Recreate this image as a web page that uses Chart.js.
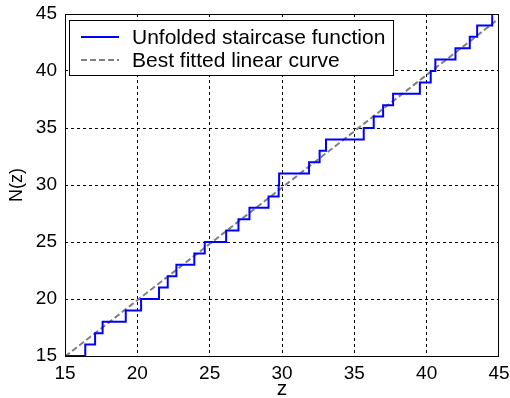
<!DOCTYPE html>
<html lang="en">
<head>
    <meta charset="UTF-8">
    <title>Unfolded staircase function</title>
    <script src="https://cdn.jsdelivr.net/npm/chart.js"></script>
    <style>
        html, body {
            margin: 0;
            padding: 0;
            background: #ffffff;
        }
        #wrap {
            width: 510px;
            height: 398px;
        }
    </style>
</head>
<body>
    <div id="wrap"><canvas id="stairChart"></canvas></div>

    <script>
        // staircase: z where N(z) steps up, and the level reached there
        const eigenZ = [15, 16.4, 17.08, 17.6, 19.2, 20.26, 21.5, 22.1, 22.7, 23.94, 24.66,
            26.14, 26.99, 27.75, 29.07, 29.77, 29.8, 31.87, 32.6, 33.04, 35.65, 36.34,
            36.99, 37.68, 39.53, 40.28, 40.6, 41.99, 42.98, 43.49, 44.53, 45];
        const stairN = [15, 16, 17, 18, 19, 20, 21, 22, 23, 24, 25,
            26, 27, 28, 29, 30, 31, 32, 33, 34, 35, 36,
            37, 38, 39, 40, 41, 42, 43, 44, 45, 45];

        // fitted line end points
        const fitZ = [15, 45];
        const fitN = [14.95, 44.6];

        const xTicks = [15, 20, 25, 30, 35, 40, 45];
        const yTicks = [15, 20, 25, 30, 35, 40, 45];

        const seriesLabels = ['Unfolded staircase function', 'Best fitted linear curve'];

        const FONT = 'Arial, "Liberation Sans", sans-serif';

        // no dashed grid on the frame edges
        const gridColor = c => (c.tick && (c.tick.value === 15 || c.tick.value === 45)) ? 'rgba(0,0,0,0)' : '#000';

        // box round the whole plot area
        const frame = {
            id: 'frame',
            afterDraw(chart) {
                const a = chart.chartArea;
                const ctx = chart.ctx;
                ctx.save();
                ctx.strokeStyle = '#000';
                ctx.lineWidth = 1;
                ctx.strokeRect(a.left + 0.5, a.top + 0.5, a.right - a.left - 1, a.bottom - a.top);
                ctx.restore();
            }
        };

        // legend drawn inside the plot, top left
        const innerLegend = {
            id: 'innerLegend',
            afterDraw(chart) {
                const ctx = chart.ctx;
                const a = chart.chartArea;
                const x0 = a.left + 4, y0 = a.top + 6;
                const w = 324, h = 55;
                ctx.save();
                ctx.fillStyle = '#fff';
                ctx.fillRect(x0, y0, w, h);
                ctx.strokeStyle = '#000';
                ctx.lineWidth = 1;
                ctx.strokeRect(x0 + 0.5, y0 + 0.5, w, h);
                ctx.font = '21px ' + FONT;
                ctx.textBaseline = 'middle';
                chart.data.datasets.forEach((ds, i) => {
                    const cy = y0 + 17 + i * 23;
                    ctx.beginPath();
                    ctx.strokeStyle = ds.borderColor;
                    ctx.lineWidth = ds.borderWidth;
                    ctx.setLineDash(ds.borderDash || []);
                    ctx.moveTo(x0 + 12, cy);
                    ctx.lineTo(x0 + 50, cy);
                    ctx.stroke();
                    ctx.setLineDash([]);
                    ctx.fillStyle = '#000';
                    ctx.fillText(ds.label, x0 + 63, cy + 1);
                });
                ctx.restore();
            }
        };

        const stairData = eigenZ.map((z, i) => ({ x: z, y: stairN[i] }));
        const fitData = fitZ.map((z, i) => ({ x: z, y: fitN[i] }));

        const ctx = document.getElementById('stairChart').getContext('2d');
        new Chart(ctx, {
            type: 'line',
            data: {
                datasets: [{
                    label: seriesLabels[0],
                    data: stairData,
                    stepped: 'before',
                    borderColor: '#0000ff',
                    borderWidth: 2,
                    pointRadius: 0,
                    fill: false
                }, {
                    label: seriesLabels[1],
                    data: fitData,
                    borderColor: '#808080',
                    borderWidth: 2,
                    borderDash: [6, 3],
                    pointRadius: 0,
                    fill: false
                }]
            },
            options: {
                responsive: true,
                maintainAspectRatio: false,
                animation: false,
                layout: { padding: { top: 14, right: 11, left: 0, bottom: 0 } },
                plugins: {
                    legend: { display: false },
                    tooltip: { enabled: false }
                },
                scales: {
                    x: {
                        type: 'linear',
                        min: 15,
                        max: 45,
                        afterBuildTicks: s => { s.ticks = xTicks.map(v => ({ value: v })); },
                        afterFit: s => {
                            s.height = 42;
                            s.paddingLeft = 0;
                            s.paddingRight = 0;
                        },
                        grid: {
                            color: gridColor,
                            lineWidth: 1,
                            drawTicks: false
                        },
                        border: { display: false, dash: [3, 3] },
                        ticks: {
                            color: '#000',
                            padding: 6,
                            maxRotation: 0,
                            font: { family: FONT, size: 19 }
                        },
                        title: {
                            display: true,
                            text: 'z',
                            color: '#000',
                            padding: { top: 0, bottom: 0 },
                            font: { family: FONT, size: 21, lineHeight: 0.8 }
                        }
                    },
                    y: {
                        type: 'linear',
                        min: 15,
                        max: 45,
                        afterBuildTicks: s => { s.ticks = yTicks.map(v => ({ value: v })); },
                        afterFit: s => {
                            s.width = 65;
                            s.paddingTop = 0;
                            s.paddingBottom = 0;
                        },
                        grid: {
                            color: gridColor,
                            lineWidth: 1,
                            drawTicks: false
                        },
                        border: { display: false, dash: [3, 3] },
                        ticks: {
                            color: '#000',
                            padding: 8,
                            font: { family: FONT, size: 19 }
                        },
                        title: {
                            display: true,
                            text: 'N(z)',
                            color: '#000',
                            padding: { top: 6, bottom: 0 },
                            font: { family: FONT, size: 18 }
                        }
                    }
                }
            },
            plugins: [frame, innerLegend]
        });
    </script>
</body>
</html>
